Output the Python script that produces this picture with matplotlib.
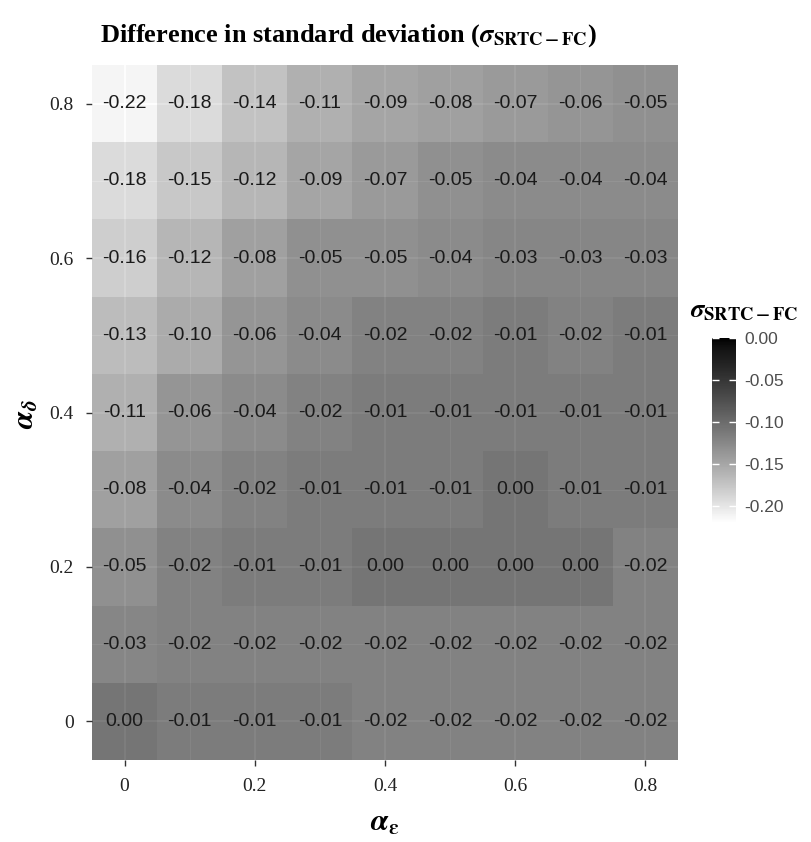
import numpy as np
import matplotlib
matplotlib.use('Agg')
import matplotlib.pyplot as plt
from matplotlib.colors import ListedColormap, Normalize
from matplotlib.cm import ScalarMappable

# heatmap values, rows from alpha_delta = 0.8 (top) down to 0
alpha_eps = [0, 0.1, 0.2, 0.3, 0.4, 0.5, 0.6, 0.7, 0.8]
alpha_delta = [0.8, 0.7, 0.6, 0.5, 0.4, 0.3, 0.2, 0.1, 0]
sigma_diff = [
    [-0.22, -0.18, -0.14, -0.11, -0.09, -0.08, -0.07, -0.06, -0.05],
    [-0.18, -0.15, -0.12, -0.09, -0.07, -0.05, -0.04, -0.04, -0.04],
    [-0.16, -0.12, -0.08, -0.05, -0.05, -0.04, -0.03, -0.03, -0.03],
    [-0.13, -0.10, -0.06, -0.04, -0.02, -0.02, -0.01, -0.02, -0.01],
    [-0.11, -0.06, -0.04, -0.02, -0.01, -0.01, -0.01, -0.01, -0.01],
    [-0.08, -0.04, -0.02, -0.01, -0.01, -0.01, 0.00, -0.01, -0.01],
    [-0.05, -0.02, -0.01, -0.01, 0.00, 0.00, 0.00, 0.00, -0.02],
    [-0.03, -0.02, -0.02, -0.02, -0.02, -0.02, -0.02, -0.02, -0.02],
    [0.00, -0.01, -0.01, -0.01, -0.02, -0.02, -0.02, -0.02, -0.02],
]
tick_vals = [0, 0.2, 0.4, 0.6, 0.8]
tick_labels = ['0', '0.2', '0.4', '0.6', '0.8']
cbar_ticks = [0.00, -0.05, -0.10, -0.15, -0.20]

plt.rcParams['mathtext.fontset'] = 'stix'


# white -> black interpolated in Lab lightness, like ggplot's gradient
def lab_gray(L):
    fy = (L + 16) / 116
    Y = fy ** 3 if fy > 6 / 29 else (fy - 16 / 116) * 3 * (6 / 29) ** 2
    c = 12.92 * Y if Y <= 0.0031308 else 1.055 * Y ** (1 / 2.4) - 0.055
    return min(max(c, 0), 1)


grays = [lab_gray(L) for L in np.linspace(100, 0, 256)]
cmap = ListedColormap([(g, g, g) for g in grays])
norm = Normalize(vmin=-0.22, vmax=0.0)

fig = plt.figure(figsize=(8.11, 8.42), dpi=100)
ax = fig.add_axes([92 / 811, 1 - 760 / 842, 586 / 811, 695 / 842])
ax.set_facecolor('#EBEBEB')

x = np.array(alpha_eps)
y = np.array(alpha_delta)
z = np.array(sigma_diff)
xe = np.append(x - 0.05, x[-1] + 0.05)
ys = y[::-1]
ye = np.append(ys - 0.05, ys[-1] + 0.05)
ax.pcolormesh(xe, ye, z[::-1], cmap=cmap, norm=norm, alpha=0.5, zorder=1)

for i, yv in enumerate(y):
    for j, xv in enumerate(x):
        ax.text(xv, yv, '%.2f' % z[i][j], ha='center', va='center',
                fontsize=14, family='Liberation Sans', color='#1a1a1a', zorder=3)

ax.set_xlim(-0.05, 0.85)
ax.set_ylim(-0.05, 0.85)
ax.set_xticks(tick_vals)
ax.set_xticklabels(tick_labels)
ax.set_yticks(tick_vals)
ax.set_yticklabels(tick_labels)
ax.set_xticks([0.1, 0.3, 0.5, 0.7], minor=True)
ax.set_yticks([0.1, 0.3, 0.5, 0.7], minor=True)
ax.set_axisbelow(True)
ax.grid(which='major', color='white', lw=1.2)
ax.grid(which='minor', color='white', lw=0.6)
ax.tick_params(which='minor', length=0)
ax.tick_params(which='major', length=4, width=1, color='#333333', pad=9,
               labelsize=14, labelcolor='#222222')
for lab in ax.get_xticklabels() + ax.get_yticklabels():
    lab.set_family('Liberation Serif')
for s in ax.spines.values():
    s.set_visible(False)

fig.text(100 / 811, 1 - 36 / 842,
         r'Difference in standard deviation ($\boldsymbol{\sigma}_{\mathbf{SRTC-FC}}$)',
         ha='left', va='center', fontsize=19, fontweight='bold',
         family='Liberation Serif')
fig.text(385 / 811, 1 - 822 / 842, r'$\boldsymbol{\alpha}_{\boldsymbol{\varepsilon}}$',
         ha='center', va='center', fontsize=22)
fig.text(25 / 811, 1 - 414 / 842, r'$\boldsymbol{\alpha}_{\boldsymbol{\delta}}$',
         ha='center', va='center', fontsize=22, rotation=90)

# colorbar (drawn without the tile transparency)
cax = fig.add_axes([712 / 811, 1 - 523 / 842, 24 / 811, 185 / 842])
cb = fig.colorbar(ScalarMappable(norm=norm, cmap=cmap), cax=cax, ticks=cbar_ticks)
cb.outline.set_visible(False)
cb.ax.set_yticklabels(['%.2f' % t for t in cbar_ticks])
cb.ax.tick_params(length=5, width=1, color='white', direction='in', pad=6,
                  labelsize=12.5, labelcolor='#4D4D4D')
for lab in cb.ax.get_yticklabels():
    lab.set_family('Liberation Sans')
cb.ax.tick_params(left=True, right=True, direction='in')
fig.text(690 / 811, 1 - 310 / 842, r'$\boldsymbol{\sigma}_{\mathbf{SRTC-FC}}$',
         ha='left', va='center', fontsize=19)

fig.save_fig = None
fig.savefig('out.png', dpi=100)
